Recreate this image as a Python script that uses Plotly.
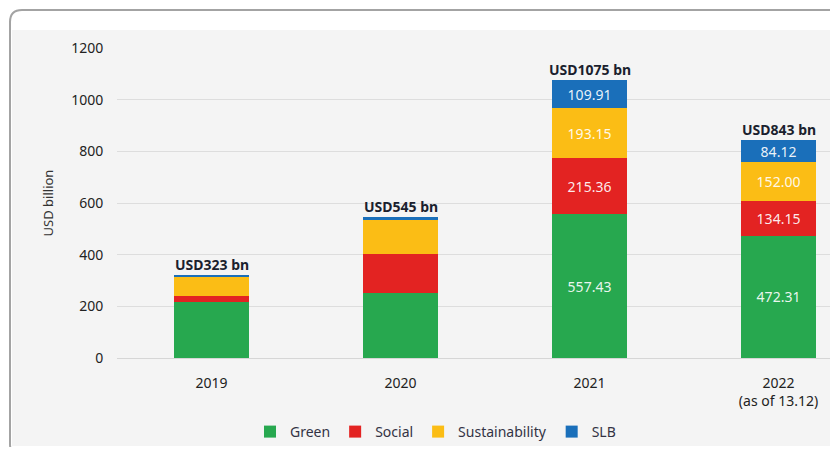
import plotly.graph_objects as go

years = ["2019", "2020", "2021", "2022<br>(as of 13.12)"]
green = [217, 253, 557.43, 472.31]
social = [22, 149, 215.36, 134.15]
sustainability = [78, 132, 193.15, 152.00]
slb = [6, 11, 109.91, 84.12]
totals = [323, 545, 1075, 843]
show_labels = [False, False, True, True]

series = [
    ("Green", green, "#27a84f"),
    ("Social", social, "#e32322"),
    ("Sustainability", sustainability, "#fbbd15"),
    ("SLB", slb, "#1a6fba"),
]

OFF = 8  # page body margin
W, H = 838 - OFF, 455 - 2 * OFF
ML, MR, MT = 117 - OFF, 0, 48 - OFF
MB = H + OFF - 358
PW, PH = W - ML - MR, H - MT - MB


def px(x):
    return (x - OFF - ML) / PW


def py(y):
    return (H - MB - (y - OFF)) / PH


FONT = "Noto Sans"

fig = go.Figure()
for name, vals, col in series:
    texts = [f"{v:.2f}" if s else "" for v, s in zip(vals, show_labels)]
    fig.add_trace(go.Bar(
        name=name, x=years, y=vals, marker=dict(color=col, line=dict(width=0)),
        text=texts, textposition="inside", insidetextanchor="middle",
        constraintext="none",
        textfont=dict(color="rgba(255,255,255,0.92)", size=14, family=FONT),
        hoverinfo="x+y+name",
    ))

for i, t in enumerate(totals):
    fig.add_annotation(x=i, y=t, xref="x", yref="y", text=f"<b>USD{t} bn</b>",
                       showarrow=False, yanchor="bottom", yshift=-1,
                       font=dict(size=14, color="#1b1f2e", family=FONT))

# panel background and rounded border
r = 12
x0, y0, y1 = 10, 10, 456
xr = 900
border = (f"M {px(xr)},{py(y0)} L {px(x0 + r)},{py(y0)} "
          f"Q {px(x0)},{py(y0)} {px(x0)},{py(y0 + r)} "
          f"L {px(x0)},{py(y1 - r)} "
          f"Q {px(x0)},{py(y1)} {px(x0 + r)},{py(y1)} "
          f"L {px(xr)},{py(y1)}")
fig.add_shape(type="rect", xref="paper", yref="paper", layer="below",
              x0=px(12), x1=px(xr), y0=py(30), y1=py(446),
              fillcolor="#f4f4f4", line=dict(width=0))
fig.add_shape(type="path", xref="paper", yref="paper", layer="below",
              path=border, line=dict(color="#a3a3a3", width=2))

step = 189
fig.update_layout(
    width=W, height=H,
    margin=dict(l=ML, r=MR, t=MT, b=MB, autoexpand=False),
    barmode="stack", bargap=0.6,
    paper_bgcolor="white", plot_bgcolor="rgba(0,0,0,0)",
    font=dict(family=FONT, color="#333333", size=13),
    legend=dict(orientation="h", x=px(250), xanchor="left", y=py(432), yanchor="middle",
                font=dict(size=14, color="#333344"), bgcolor="rgba(0,0,0,0)",
                traceorder="normal"),
    xaxis=dict(range=[-0.5, -0.5 + PW / step], showgrid=False,
               ticks="outside", ticklen=12, tickcolor="rgba(0,0,0,0)",
               tickfont=dict(size=14, color="#222222"), showline=False, zeroline=False),
    yaxis=dict(range=[0, 1200], dtick=200, showgrid=True, gridcolor="#dddddd",
               gridwidth=1, zeroline=True, zerolinecolor="#d6d6d6", zerolinewidth=1,
               ticks="outside", ticklen=10, tickcolor="rgba(0,0,0,0)",
               tickfont=dict(size=14, color="#222222"),
               title=dict(text="USD billion", standoff=14, font=dict(size=13, color="#333333"))),
)

fig.write_html("out.html")
